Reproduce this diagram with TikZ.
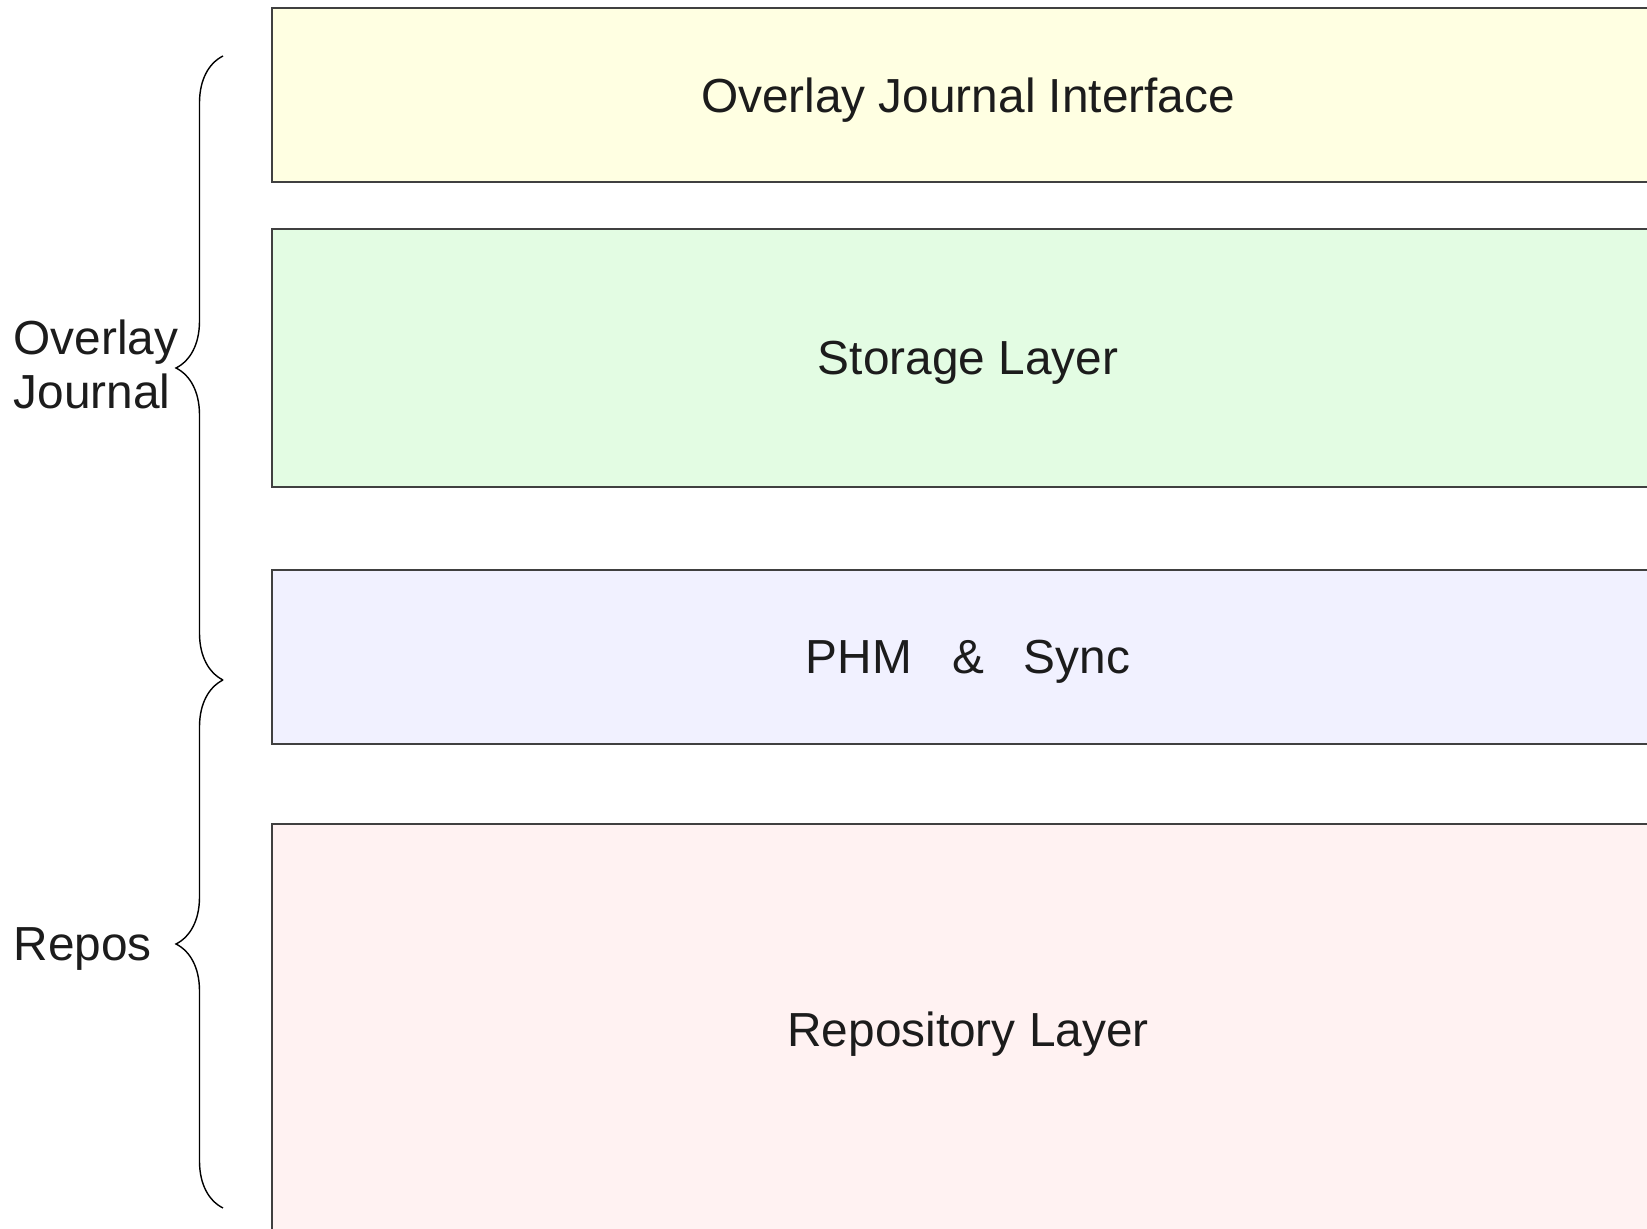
\documentclass[tikz,border=0pt]{standalone}
\usepackage{fontspec}
\setmainfont{Liberation Sans}
\usetikzlibrary{decorations.pathreplacing}

\definecolor{ifaceyellow}{RGB}{255,255,226}
\definecolor{storegreen}{RGB}{227,252,227}
\definecolor{phmblue}{RGB}{241,241,255}
\definecolor{repopink}{RGB}{255,242,242}
\definecolor{textgrey}{RGB}{28,28,28}

\begin{document}
\begin{tikzpicture}[
    layer/.style={draw=black!75, line width=0.55pt, minimum width=13.92cm, inner sep=0pt,
        text depth=0pt, font=\fontsize{13.6}{15.6}\selectfont, text=textgrey},
    sidelabel/.style={align=left, inner sep=0pt,
        font=\fontsize{13.6}{15.6}\selectfont, text=textgrey},
    curly/.style={decorate, decoration={brace, amplitude=0.47cm}, line width=0.4pt}
]
    \clip (0,0) rectangle (16.47,12.29);

    % the four layers, top to bottom
    \node[layer, fill=ifaceyellow, minimum height=1.74cm] (iface) at (9.68,11.34) {Overlay Journal Interface};
    \node[layer, fill=storegreen, minimum height=2.58cm] (storage) at (9.68,8.71) {Storage Layer};
    \node[layer, fill=phmblue, minimum height=1.74cm] (phm) at (9.68,5.72) {PHM\ \ \ \&\ \ \ Sync};
    \node[layer, fill=repopink, minimum height=4.11cm] (repo) at (9.68,1.995) {Repository Layer};

    % braces on the left
    \coordinate (ojtop) at (2.23,11.73);
    \coordinate (ojbot) at (2.23,5.49);
    \coordinate (rpbot) at (2.23,0.21);
    \draw[curly] (ojbot) -- (ojtop);
    \draw[curly] (rpbot) -- (ojbot);

    % what each brace covers
    \node[sidelabel, anchor=west] (ojlabel) at (0.13,8.645) {Overlay\\Journal};
    \node[sidelabel, anchor=base west] (rplabel) at (0.13,2.68) {Repos};
\end{tikzpicture}
\end{document}
